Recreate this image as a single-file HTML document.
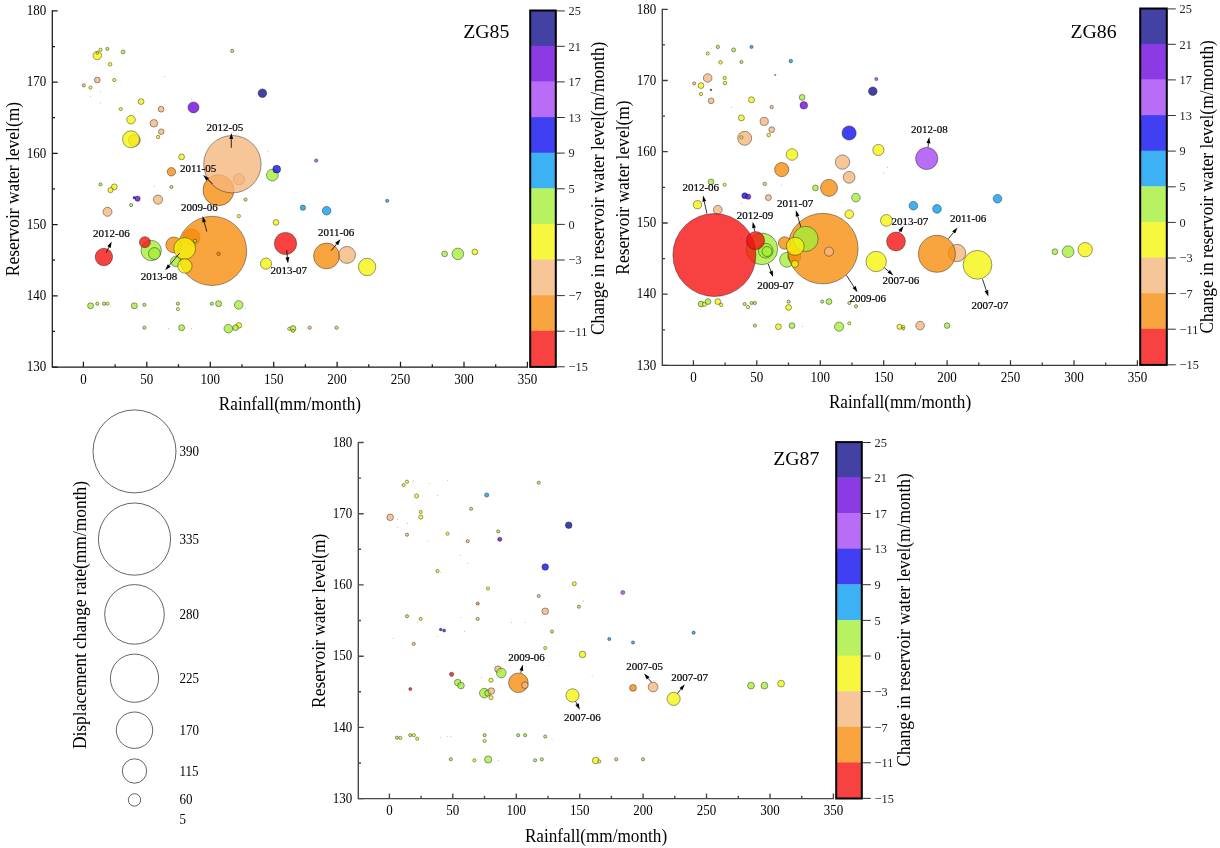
<!DOCTYPE html>
<html lang="en"><head><meta charset="utf-8"><title>Bubble plots ZG85 ZG86 ZG87</title>
<style>html,body{margin:0;padding:0;background:#fff}svg{display:block}text{font-family:"Liberation Serif","Times New Roman",serif;fill:#000}.tk{font-size:13px}.cb{font-size:13px;fill:#222}.ax{font-size:17.2px}.rx{font-size:17.45px}.an{font-size:11px;stroke:#000;stroke-width:.2}.zg{font-size:19.8px}.b{stroke:#1a1a1a;stroke-width:.55;stroke-opacity:.8;fill-opacity:0.78}.t{fill:#555;fill-opacity:.7}.l{fill:none}.ar{stroke:#000;stroke-width:.8;fill:none}.lg{stroke:#222;stroke-width:.7;fill:none}</style></head><body>
<svg width="1220" height="848" viewBox="0 0 1220 848">
<rect width="1220" height="848" fill="#fff"/>
<g>
<circle class="t" cx="164.7" cy="76.5" r=".45"/>
<circle class="t" cx="100.4" cy="91.8" r=".45"/>
<circle class="t" cx="90.5" cy="96.4" r=".45"/>
<circle class="t" cx="100.4" cy="103" r=".45"/>
<circle class="t" cx="191.7" cy="99.3" r=".45"/>
<circle class="t" cx="268" cy="151.5" r=".45"/>
<circle class="t" cx="154.6" cy="186.2" r=".45"/>
<circle class="t" cx="110.9" cy="306.6" r=".45"/>
<circle class="t" cx="137.5" cy="309.1" r=".45"/>
<circle class="t" cx="168.4" cy="328.5" r=".45"/>
<circle class="t" cx="191.7" cy="328.5" r=".45"/>
<circle class="t" cx="245.4" cy="308.2" r=".45"/>
<circle class="b" cx="97.3" cy="55.5" r="4.3" fill="#f5f50a"/>
<circle class="b" cx="97.3" cy="53.1" r="1.3" fill="#f5f50a"/>
<circle class="b" cx="100.6" cy="49.7" r="1.6" fill="#f5f50a"/>
<circle class="b" cx="107.4" cy="48.9" r="1.6" fill="#a4ee36"/>
<circle class="b" cx="123.1" cy="51.9" r="2" fill="#a4ee36"/>
<circle class="b" cx="110.1" cy="64.3" r="1.8" fill="#f5f50a"/>
<circle class="b" cx="97.3" cy="80" r="2.9" fill="#f5b67b"/>
<circle class="b" cx="114.2" cy="80" r="1.6" fill="#f5f50a"/>
<circle class="b" cx="83.8" cy="85.4" r="1.6" fill="#f5b67b"/>
<circle class="b" cx="90.5" cy="87.6" r="1.6" fill="#f5f50a"/>
<circle class="b" cx="141.1" cy="101.6" r="2.9" fill="#f5f50a"/>
<circle class="b" cx="120.8" cy="109.1" r="1.6" fill="#f5f50a"/>
<circle class="b" cx="161.1" cy="109.2" r="2.9" fill="#f5b67b"/>
<circle class="b" cx="193.5" cy="107.4" r="5.5" fill="#6c02dc"/>
<circle class="b" cx="131" cy="119.7" r="4.3" fill="#f5f50a"/>
<circle class="b" cx="153.9" cy="123.3" r="3.8" fill="#f5b67b"/>
<circle class="b" cx="161.3" cy="131.7" r="2.8" fill="#f5b67b"/>
<circle class="b" cx="158.1" cy="137" r="1.7" fill="#f5f50a"/>
<circle class="b" cx="134.3" cy="140.3" r="5.9" fill="#f5b67b"/>
<circle class="b" cx="131" cy="139.3" r="8.5" fill="#f5f50a"/>
<circle class="b" cx="232.2" cy="50.9" r="1.6" fill="#a4ee36"/>
<circle class="b" cx="262.4" cy="93.2" r="4.3" fill="#0f0b8c"/>
<circle class="b" cx="218.5" cy="190.2" r="15.5" fill="#f68c0a"/>
<circle class="b" cx="238.9" cy="179.3" r="5.6" fill="#f5b67b"/>
<circle class="b" cx="232.4" cy="164.2" r="28.7" fill="#f5b67b"/>
<circle class="b" cx="181.6" cy="156.9" r="2.9" fill="#f5f50a"/>
<circle class="b" cx="171.4" cy="171.8" r="4.2" fill="#f68c0a"/>
<circle class="b" cx="171.4" cy="187" r="1.6" fill="#a4ee36"/>
<circle class="b" cx="158" cy="199.6" r="4.6" fill="#f5b67b"/>
<circle class="b" cx="272.4" cy="175.1" r="5.9" fill="#a4ee36"/>
<circle class="b" cx="276.7" cy="169.2" r="3.9" fill="#0a0aee"/>
<circle class="b" cx="245.5" cy="199.6" r="1.6" fill="#a4ee36"/>
<circle class="b" cx="302.9" cy="207.7" r="2.6" fill="#059cf2"/>
<circle class="b" cx="238.8" cy="216.1" r="1.7" fill="#f5f50a"/>
<circle class="b" cx="276" cy="222.4" r="2.9" fill="#f5f50a"/>
<circle class="b" cx="316.2" cy="160.6" r="1.7" fill="#a543f2"/>
<circle class="b" cx="191.5" cy="237.4" r="8.5" fill="#f68c0a"/>
<circle class="b" cx="212.1" cy="250.9" r="34.6" fill="#f68c0a"/>
<circle class="b" cx="173.8" cy="244.9" r="7.9" fill="#f68c0a"/>
<circle class="b" cx="175.7" cy="261.4" r="5.2" fill="#a4ee36"/>
<circle class="b" cx="184.7" cy="248.5" r="10.9" fill="#f5f50a"/>
<circle class="b" cx="184.9" cy="266" r="7.2" fill="#f5f50a"/>
<circle class="b" cx="195" cy="240.9" r="1.7" fill="#a4ee36"/>
<circle class="b" cx="218.6" cy="253.8" r="1.7" fill="#f68c0a"/>
<circle class="b" cx="151.2" cy="250.5" r="10.2" fill="#a4ee36"/>
<circle class="b" cx="154.4" cy="253.5" r="5.9" fill="#a4ee36"/>
<circle class="b" cx="144.9" cy="242.2" r="5.5" fill="#f60d0d"/>
<circle class="b" cx="266" cy="263.6" r="5.6" fill="#f5f50a"/>
<circle class="b" cx="100.5" cy="184.4" r="1.6" fill="#a4ee36"/>
<circle class="b" cx="114.3" cy="186.8" r="2.9" fill="#f5f50a"/>
<circle class="b" cx="110.5" cy="190.1" r="2.6" fill="#f5f50a"/>
<circle class="b" cx="134.3" cy="197.7" r="1.3" fill="#0a0aee"/>
<circle class="b" cx="137.6" cy="198.7" r="2.6" fill="#6c02dc"/>
<circle class="b" cx="131.1" cy="205.1" r="1.6" fill="#a4ee36"/>
<circle class="b" cx="107.5" cy="211.8" r="4.5" fill="#f5b67b"/>
<circle class="b" cx="103.9" cy="257" r="8.7" fill="#f60d0d"/>
<circle class="b" cx="326.6" cy="210.7" r="4.3" fill="#059cf2"/>
<circle class="b" cx="387.2" cy="200.8" r="1.6" fill="#059cf2"/>
<circle class="b" cx="285.5" cy="243.5" r="11.1" fill="#f60d0d"/>
<circle class="b" cx="347" cy="254.9" r="8.5" fill="#f5b67b"/>
<circle class="b" cx="326.5" cy="256" r="12.9" fill="#f68c0a"/>
<circle class="b" cx="367.1" cy="267" r="8.7" fill="#f5f50a"/>
<circle class="b" cx="444.6" cy="253.9" r="2.9" fill="#a4ee36"/>
<circle class="b" cx="457.9" cy="253.9" r="5.8" fill="#a4ee36"/>
<circle class="b" cx="474.8" cy="251.9" r="2.9" fill="#f5f50a"/>
<circle class="b" cx="90.6" cy="305.8" r="3" fill="#a4ee36"/>
<circle class="b" cx="97.3" cy="303.7" r="1.6" fill="#a4ee36"/>
<circle class="b" cx="104" cy="303.7" r="1.7" fill="#a4ee36"/>
<circle class="b" cx="107.5" cy="303.7" r="1.6" fill="#f5f50a"/>
<circle class="b" cx="134.3" cy="305.8" r="3" fill="#a4ee36"/>
<circle class="b" cx="144.4" cy="304.8" r="1.6" fill="#a4ee36"/>
<circle class="b" cx="177.9" cy="303.7" r="1.6" fill="#a4ee36"/>
<circle class="b" cx="177.9" cy="309.1" r="1.6" fill="#f5f50a"/>
<circle class="b" cx="211.8" cy="303.7" r="1.6" fill="#a4ee36"/>
<circle class="b" cx="218.6" cy="303.7" r="3" fill="#a4ee36"/>
<circle class="b" cx="238.7" cy="304.9" r="4.3" fill="#a4ee36"/>
<circle class="b" cx="144.4" cy="327.7" r="1.6" fill="#a4ee36"/>
<circle class="b" cx="181.6" cy="327.7" r="3" fill="#a4ee36"/>
<circle class="b" cx="238.9" cy="325.4" r="2.8" fill="#f5f50a"/>
<circle class="b" cx="228.3" cy="328.7" r="4.3" fill="#a4ee36"/>
<circle class="b" cx="235.6" cy="327.7" r="2.9" fill="#a4ee36"/>
<circle class="b" cx="289.2" cy="328.8" r="1.6" fill="#f5f50a"/>
<circle class="b" cx="293" cy="328.5" r="2.9" fill="#a4ee36"/>
<circle class="b" cx="293" cy="330.9" r="1.6" fill="#f5f50a"/>
<circle class="b" cx="309.7" cy="327.7" r="1.7" fill="#f5b67b"/>
<circle class="b" cx="336.6" cy="327.7" r="1.7" fill="#a4ee36"/>
<path class="l" stroke="#1a1a1a" stroke-width="1.25" d="M52.3 10.3V367H528"/>
<path class="l" stroke="#1a1a1a" stroke-width="1.25" d="M83.4 367v-5.2M115.1 367v-2.8M146.8 367v-5.2M178.5 367v-2.8M210.3 367v-5.2M242 367v-2.8M273.7 367v-5.2M305.4 367v-2.8M337.1 367v-5.2M368.8 367v-2.8M400.5 367v-5.2M432.3 367v-2.8M464 367v-5.2M495.7 367v-2.8M527.4 367v-5.2M52.3 367h5.4M52.3 331.4h2.7M52.3 295.8h5.4M52.3 260.2h2.7M52.3 224.6h5.4M52.3 188.9h2.7M52.3 153.3h5.4M52.3 117.7h2.7M52.3 82.1h5.4M52.3 46.5h2.7M52.3 10.9h5.4"/>
<text class="tk" transform="translate(83.4 383.6) scale(1,1.08)" text-anchor="middle">0</text>
<text class="tk" transform="translate(146.8 383.6) scale(1,1.08)" text-anchor="middle">50</text>
<text class="tk" transform="translate(210.3 383.6) scale(1,1.08)" text-anchor="middle">100</text>
<text class="tk" transform="translate(273.7 383.6) scale(1,1.08)" text-anchor="middle">150</text>
<text class="tk" transform="translate(337.1 383.6) scale(1,1.08)" text-anchor="middle">200</text>
<text class="tk" transform="translate(400.5 383.6) scale(1,1.08)" text-anchor="middle">250</text>
<text class="tk" transform="translate(464 383.6) scale(1,1.08)" text-anchor="middle">300</text>
<text class="tk" transform="translate(527.4 383.6) scale(1,1.08)" text-anchor="middle">350</text>
<text class="tk" transform="translate(46.2 371.2) scale(1,1.08)" text-anchor="end">130</text>
<text class="tk" transform="translate(46.2 300) scale(1,1.08)" text-anchor="end">140</text>
<text class="tk" transform="translate(46.2 228.8) scale(1,1.08)" text-anchor="end">150</text>
<text class="tk" transform="translate(46.2 157.5) scale(1,1.08)" text-anchor="end">160</text>
<text class="tk" transform="translate(46.2 86.3) scale(1,1.08)" text-anchor="end">170</text>
<text class="tk" transform="translate(46.2 15.1) scale(1,1.08)" text-anchor="end">180</text>
<text class="ax" transform="translate(289.9 409.9) scale(1,1.04)" text-anchor="middle">Rainfall(mm/month)</text>
<text class="rx" transform="translate(19.4 189.1) rotate(-90) scale(1,1.11)" text-anchor="middle">Reservoir water level(m)</text>
<text class="zg" x="463.2" y="37.6">ZG85</text>
<rect x="530.2" y="10.3" width="25.6" height="36" fill="#4441a5"/>
<rect x="530.2" y="45.9" width="25.6" height="36" fill="#8c3ae4"/>
<rect x="530.2" y="81.5" width="25.6" height="36" fill="#b96cf5"/>
<rect x="530.2" y="117.1" width="25.6" height="36" fill="#4040f2"/>
<rect x="530.2" y="152.7" width="25.6" height="36" fill="#3cb2f5"/>
<rect x="530.2" y="188.4" width="25.6" height="36" fill="#b8f262"/>
<rect x="530.2" y="224" width="25.6" height="36" fill="#f7f740"/>
<rect x="530.2" y="259.6" width="25.6" height="36" fill="#f7c698"/>
<rect x="530.2" y="295.2" width="25.6" height="36" fill="#f8a540"/>
<rect x="530.2" y="330.8" width="25.6" height="36" fill="#f84242"/>
<rect x="530.2" y="10.5" width="25.6" height="356.4" fill="none" stroke="#000" stroke-width="2"/>
<text class="cb" transform="translate(568.6 15.2) scale(.95,1)">25</text>
<text class="cb" transform="translate(568.6 50.6) scale(.95,1)">21</text>
<text class="cb" transform="translate(568.6 86.2) scale(.95,1)">17</text>
<text class="cb" transform="translate(568.6 121.8) scale(.95,1)">13</text>
<text class="cb" transform="translate(568.6 157.4) scale(.95,1)">9</text>
<text class="cb" transform="translate(568.6 193.1) scale(.95,1)">5</text>
<text class="cb" transform="translate(568.6 228.7) scale(.95,1)">0</text>
<text class="cb" transform="translate(568.6 264.3) scale(.95,1)">−3</text>
<text class="cb" transform="translate(568.6 299.9) scale(.95,1)">−7</text>
<text class="cb" transform="translate(568.6 335.5) scale(.95,1)">−11</text>
<text class="cb" transform="translate(568.6 371.1) scale(.95,1)">−15</text>
<path d="M556.8 10.9h8M556.8 46.3h8M556.8 81.9h8M556.8 117.5h8M556.8 153.1h8M556.8 188.8h8M556.8 224.4h8M556.8 260h8M556.8 295.6h8M556.8 331.2h8M556.8 366.8h8" stroke="#333" stroke-width="1" fill="none"/>
<text class="rx" transform="translate(603.5 188.3) rotate(-90) scale(1,1.11)" text-anchor="middle">Change in reservoir water level(m/month)</text>
<path class="ar" d="M231.3 147.8L231.3 139.1"/>
<path d="M231.3 132.9L233.2 139.1L229.4 139.1Z" fill="#000"/>
<text class="an" x="206.6" y="130.8">2012-05</text>
<path class="ar" d="M212.7 183.9L207.7 179.3"/>
<path d="M203.1 175.1L209 177.9L206.4 180.7Z" fill="#000"/>
<text class="an" x="179.9" y="172.2">2011-05</text>
<path class="ar" d="M206.8 231.5L204.2 221.9"/>
<path d="M202.6 215.9L206 221.4L202.4 222.4Z" fill="#000"/>
<text class="an" x="181.1" y="210.6">2009-06</text>
<path class="ar" d="M106.1 252.9L109 247.1"/>
<path d="M111.7 241.5L110.7 247.9L107.3 246.2Z" fill="#000"/>
<text class="an" x="93.1" y="237.1">2012-06</text>
<path class="ar" d="M179.7 253.1L169.2 265.5"/>
<path d="M165.2 270.2L167.8 264.2L170.7 266.7Z" fill="#000"/>
<text class="an" x="140.7" y="280.3">2013-08</text>
<path class="ar" d="M286.7 250.1L287.4 257.2"/>
<path d="M288 263.4L285.5 257.4L289.3 257Z" fill="#000"/>
<text class="an" x="270.4" y="273.9">2013-07</text>
<path class="ar" d="M331.3 250.6L336.6 244"/>
<path d="M340.5 239.2L338.1 245.2L335.1 242.8Z" fill="#000"/>
<text class="an" x="317.9" y="235.6">2011-06</text>
</g>
<g>
<circle class="t" cx="711.1" cy="48.2" r=".45"/>
<circle class="t" cx="731.4" cy="107.2" r=".45"/>
<circle class="t" cx="781.8" cy="184.9" r=".45"/>
<circle class="t" cx="741.4" cy="203.3" r=".45"/>
<circle class="t" cx="887.4" cy="167.5" r=".45"/>
<circle class="t" cx="883.4" cy="173" r=".45"/>
<circle class="t" cx="802.4" cy="326.3" r=".45"/>
<circle class="b" cx="717.8" cy="46.9" r="1.7" fill="#a4ee36"/>
<circle class="b" cx="707.7" cy="53.5" r="1.6" fill="#f5f50a"/>
<circle class="b" cx="733.6" cy="49.9" r="2" fill="#a4ee36"/>
<circle class="b" cx="751.5" cy="46.9" r="1.6" fill="#059cf2"/>
<circle class="b" cx="720.5" cy="62.3" r="1.8" fill="#f5f50a"/>
<circle class="b" cx="741.4" cy="62" r="1.6" fill="#a4ee36"/>
<circle class="b" cx="790.8" cy="61.1" r="1.8" fill="#059cf2"/>
<circle class="b" cx="775.2" cy="74.9" r="0.7" fill="#a4ee36"/>
<circle class="b" cx="707.7" cy="78" r="4.3" fill="#f5b67b"/>
<circle class="b" cx="724.7" cy="78" r="1.7" fill="#f5f50a"/>
<circle class="b" cx="724.9" cy="83.1" r="1.8" fill="#f5f50a"/>
<circle class="b" cx="694.2" cy="83.4" r="1.6" fill="#f5b67b"/>
<circle class="b" cx="701" cy="85.6" r="2.9" fill="#f5f50a"/>
<circle class="b" cx="711" cy="89.9" r="0.8" fill="#0f0b8c"/>
<circle class="b" cx="701" cy="94.1" r="1.7" fill="#f5f50a"/>
<circle class="b" cx="711.1" cy="100.8" r="2.9" fill="#f5b67b"/>
<circle class="b" cx="751.5" cy="99.8" r="3" fill="#f5f50a"/>
<circle class="b" cx="771.7" cy="107.1" r="1.7" fill="#f5b67b"/>
<circle class="b" cx="802.1" cy="97.4" r="2.9" fill="#a4ee36"/>
<circle class="b" cx="803.8" cy="105.3" r="3.8" fill="#6c02dc"/>
<circle class="b" cx="741.4" cy="117.9" r="3" fill="#f5f50a"/>
<circle class="b" cx="764.2" cy="121.4" r="4.1" fill="#f5b67b"/>
<circle class="b" cx="771.7" cy="129.7" r="2.9" fill="#f5b67b"/>
<circle class="b" cx="768.7" cy="135" r="1.8" fill="#f5f50a"/>
<circle class="b" cx="744.7" cy="138.3" r="7" fill="#f5b67b"/>
<circle class="b" cx="741.4" cy="137.3" r="1.6" fill="#f5f50a"/>
<circle class="b" cx="876.3" cy="79" r="1.6" fill="#a543f2"/>
<circle class="b" cx="872.8" cy="91.2" r="4.3" fill="#0f0b8c"/>
<circle class="b" cx="849.1" cy="133" r="7.1" fill="#0a0aee"/>
<circle class="b" cx="792" cy="154.5" r="5.8" fill="#f5f50a"/>
<circle class="b" cx="781.7" cy="169.6" r="7.1" fill="#f68c0a"/>
<circle class="b" cx="842.5" cy="162.1" r="7.2" fill="#f5b67b"/>
<circle class="b" cx="849.1" cy="177.3" r="5.9" fill="#f5b67b"/>
<circle class="b" cx="829" cy="187.9" r="8.5" fill="#f68c0a"/>
<circle class="b" cx="815.4" cy="187.9" r="2.9" fill="#a4ee36"/>
<circle class="b" cx="711" cy="181.9" r="2.9" fill="#a4ee36"/>
<circle class="b" cx="724.6" cy="184.8" r="1.6" fill="#f5f50a"/>
<circle class="b" cx="764.8" cy="183.9" r="1.7" fill="#a4ee36"/>
<circle class="b" cx="744.7" cy="195.7" r="2.9" fill="#0a0aee"/>
<circle class="b" cx="748.2" cy="196.7" r="2.6" fill="#6c02dc"/>
<circle class="b" cx="768.4" cy="197.6" r="3" fill="#f5b67b"/>
<circle class="b" cx="697.5" cy="204.7" r="4.1" fill="#f5f50a"/>
<circle class="b" cx="849.3" cy="214.2" r="4.3" fill="#f5f50a"/>
<circle class="b" cx="855.9" cy="197.6" r="4.3" fill="#a4ee36"/>
<circle class="b" cx="878.4" cy="150" r="5.6" fill="#f5f50a"/>
<circle class="b" cx="926.7" cy="158.5" r="11.1" fill="#a543f2"/>
<circle class="b" cx="913.4" cy="205.7" r="4.3" fill="#059cf2"/>
<circle class="b" cx="937" cy="208.9" r="4.3" fill="#059cf2"/>
<circle class="b" cx="997.5" cy="198.7" r="4.3" fill="#059cf2"/>
<circle class="b" cx="886.4" cy="220.4" r="5.9" fill="#f5f50a"/>
<circle class="b" cx="896" cy="241.5" r="9.4" fill="#f60d0d"/>
<circle class="b" cx="876.2" cy="261.5" r="10.2" fill="#f5f50a"/>
<circle class="b" cx="957" cy="253" r="8.7" fill="#f5b67b"/>
<circle class="b" cx="936.9" cy="253.8" r="18.5" fill="#f68c0a"/>
<circle class="b" cx="977.5" cy="264.8" r="14.4" fill="#f5f50a"/>
<circle class="b" cx="1054.9" cy="251.7" r="2.9" fill="#a4ee36"/>
<circle class="b" cx="1068.1" cy="251.7" r="5.9" fill="#a4ee36"/>
<circle class="b" cx="1085.2" cy="249.7" r="7.2" fill="#f5f50a"/>
<circle class="b" cx="717.8" cy="209.8" r="4.4" fill="#f5b67b"/>
<circle class="b" cx="761.9" cy="248.9" r="15.8" fill="#a4ee36"/>
<circle class="b" cx="765.7" cy="250.7" r="7.4" fill="#a4ee36"/>
<circle class="b" cx="767" cy="251.5" r="5" fill="#a4ee36"/>
<circle class="b" cx="714.4" cy="255" r="41.5" fill="#f60d0d"/>
<circle class="b" cx="755.6" cy="240.6" r="9" fill="#f60d0d"/>
<circle class="b" cx="787" cy="259.8" r="7.4" fill="#a4ee36"/>
<circle class="b" cx="794.4" cy="256.5" r="6.5" fill="#f68c0a"/>
<circle class="b" cx="822.8" cy="248.6" r="35.3" fill="#f68c0a"/>
<circle class="b" cx="784.6" cy="243" r="6.2" fill="#f68c0a"/>
<circle class="b" cx="805.6" cy="238.9" r="12.6" fill="#a4ee36"/>
<circle class="b" cx="795.2" cy="246.3" r="9" fill="#f5f50a"/>
<circle class="b" cx="794.9" cy="263.9" r="3.6" fill="#f5f50a"/>
<circle class="b" cx="829" cy="251.6" r="4.6" fill="#f5b67b"/>
<circle class="b" cx="701.1" cy="304" r="2.9" fill="#a4ee36"/>
<circle class="b" cx="704.4" cy="304.3" r="2.1" fill="#f5f50a"/>
<circle class="b" cx="708" cy="301.6" r="2.9" fill="#a4ee36"/>
<circle class="b" cx="717.8" cy="301.6" r="2.9" fill="#f5f50a"/>
<circle class="b" cx="721.2" cy="304.9" r="1.7" fill="#f5f50a"/>
<circle class="b" cx="744.7" cy="304" r="1.6" fill="#a4ee36"/>
<circle class="b" cx="748" cy="307.1" r="1.7" fill="#f5f50a"/>
<circle class="b" cx="751.6" cy="303" r="1.6" fill="#a4ee36"/>
<circle class="b" cx="754.9" cy="303" r="1.6" fill="#a4ee36"/>
<circle class="b" cx="788.6" cy="301.6" r="1.6" fill="#a4ee36"/>
<circle class="b" cx="788.6" cy="307.4" r="2.9" fill="#f5f50a"/>
<circle class="b" cx="822.2" cy="301.6" r="1.6" fill="#a4ee36"/>
<circle class="b" cx="829" cy="301.6" r="2.9" fill="#a4ee36"/>
<circle class="b" cx="849.3" cy="303" r="1.6" fill="#a4ee36"/>
<circle class="b" cx="856" cy="306.2" r="1.6" fill="#a4ee36"/>
<circle class="b" cx="754.9" cy="325.6" r="1.6" fill="#a4ee36"/>
<circle class="b" cx="778.4" cy="326.7" r="2.9" fill="#f5f50a"/>
<circle class="b" cx="792" cy="325.6" r="2.9" fill="#a4ee36"/>
<circle class="b" cx="839.1" cy="326.7" r="4.6" fill="#a4ee36"/>
<circle class="b" cx="849.3" cy="323.3" r="1.6" fill="#f5f50a"/>
<circle class="b" cx="899.5" cy="326.8" r="2.6" fill="#f5f50a"/>
<circle class="b" cx="903.2" cy="326.8" r="1.6" fill="#f5f50a"/>
<circle class="b" cx="903.2" cy="328.8" r="1.3" fill="#f5f50a"/>
<circle class="b" cx="920.1" cy="325.6" r="4.3" fill="#f5b67b"/>
<circle class="b" cx="947.1" cy="325.6" r="2.8" fill="#a4ee36"/>
<path class="l" stroke="#3c3c3c" stroke-width="1.3" d="M662.3 8.7V365.4H1138"/>
<path class="l" stroke="#3c3c3c" stroke-width="1.3" d="M693.4 365.4v-5.2M725.1 365.4v-2.8M756.8 365.4v-5.2M788.5 365.4v-2.8M820.3 365.4v-5.2M852 365.4v-2.8M883.7 365.4v-5.2M915.4 365.4v-2.8M947.1 365.4v-5.2M978.8 365.4v-2.8M1010.5 365.4v-5.2M1042.3 365.4v-2.8M1074 365.4v-5.2M1105.7 365.4v-2.8M1137.4 365.4v-5.2M662.3 365.4h5.4M662.3 329.8h2.7M662.3 294.2h5.4M662.3 258.6h2.7M662.3 223h5.4M662.3 187.4h2.7M662.3 151.7h5.4M662.3 116.1h2.7M662.3 80.5h5.4M662.3 44.9h2.7M662.3 9.3h5.4"/>
<text class="tk" transform="translate(693.4 382) scale(1,1.08)" text-anchor="middle">0</text>
<text class="tk" transform="translate(756.8 382) scale(1,1.08)" text-anchor="middle">50</text>
<text class="tk" transform="translate(820.3 382) scale(1,1.08)" text-anchor="middle">100</text>
<text class="tk" transform="translate(883.7 382) scale(1,1.08)" text-anchor="middle">150</text>
<text class="tk" transform="translate(947.1 382) scale(1,1.08)" text-anchor="middle">200</text>
<text class="tk" transform="translate(1010.5 382) scale(1,1.08)" text-anchor="middle">250</text>
<text class="tk" transform="translate(1074 382) scale(1,1.08)" text-anchor="middle">300</text>
<text class="tk" transform="translate(1137.4 382) scale(1,1.08)" text-anchor="middle">350</text>
<text class="tk" transform="translate(656.2 369.6) scale(1,1.08)" text-anchor="end">130</text>
<text class="tk" transform="translate(656.2 298.4) scale(1,1.08)" text-anchor="end">140</text>
<text class="tk" transform="translate(656.2 227.2) scale(1,1.08)" text-anchor="end">150</text>
<text class="tk" transform="translate(656.2 155.9) scale(1,1.08)" text-anchor="end">160</text>
<text class="tk" transform="translate(656.2 84.7) scale(1,1.08)" text-anchor="end">170</text>
<text class="tk" transform="translate(656.2 13.5) scale(1,1.08)" text-anchor="end">180</text>
<text class="ax" transform="translate(900 408.3) scale(1,1.04)" text-anchor="middle">Rainfall(mm/month)</text>
<text class="rx" transform="translate(629.4 187.5) rotate(-90) scale(1,1.11)" text-anchor="middle">Reservoir water level(m)</text>
<text class="zg" x="1070.4" y="38.3">ZG86</text>
<rect x="1140.2" y="8.3" width="26.6" height="36" fill="#4441a5"/>
<rect x="1140.2" y="43.9" width="26.6" height="36" fill="#8c3ae4"/>
<rect x="1140.2" y="79.5" width="26.6" height="36" fill="#b96cf5"/>
<rect x="1140.2" y="115.1" width="26.6" height="36" fill="#4040f2"/>
<rect x="1140.2" y="150.7" width="26.6" height="36" fill="#3cb2f5"/>
<rect x="1140.2" y="186.4" width="26.6" height="36" fill="#b8f262"/>
<rect x="1140.2" y="222" width="26.6" height="36" fill="#f7f740"/>
<rect x="1140.2" y="257.6" width="26.6" height="36" fill="#f7c698"/>
<rect x="1140.2" y="293.2" width="26.6" height="36" fill="#f8a540"/>
<rect x="1140.2" y="328.8" width="26.6" height="36" fill="#f84242"/>
<rect x="1140.2" y="8.5" width="26.6" height="356.4" fill="none" stroke="#000" stroke-width="2"/>
<text class="cb" transform="translate(1179.6 13.2) scale(.95,1)">25</text>
<text class="cb" transform="translate(1179.6 48.6) scale(.95,1)">21</text>
<text class="cb" transform="translate(1179.6 84.2) scale(.95,1)">17</text>
<text class="cb" transform="translate(1179.6 119.8) scale(.95,1)">13</text>
<text class="cb" transform="translate(1179.6 155.4) scale(.95,1)">9</text>
<text class="cb" transform="translate(1179.6 191.1) scale(.95,1)">5</text>
<text class="cb" transform="translate(1179.6 226.7) scale(.95,1)">0</text>
<text class="cb" transform="translate(1179.6 262.3) scale(.95,1)">−3</text>
<text class="cb" transform="translate(1179.6 297.9) scale(.95,1)">−7</text>
<text class="cb" transform="translate(1179.6 333.5) scale(.95,1)">−11</text>
<text class="cb" transform="translate(1179.6 369.1) scale(.95,1)">−15</text>
<path d="M1167.8 8.9h8M1167.8 44.3h8M1167.8 79.9h8M1167.8 115.5h8M1167.8 151.1h8M1167.8 186.8h8M1167.8 222.4h8M1167.8 258h8M1167.8 293.6h8M1167.8 329.2h8M1167.8 364.8h8" stroke="#333" stroke-width="1" fill="none"/>
<text class="rx" transform="translate(1213.4 186.8) rotate(-90) scale(1,1.11)" text-anchor="middle">Change in reservoir water level(m/month)</text>
<path class="ar" d="M928 147.5L928.5 143.2"/>
<path d="M929.2 137L930.4 143.4L926.6 142.9Z" fill="#000"/>
<text class="an" x="911.1" y="132.8">2012-08</text>
<path class="ar" d="M706.8 213.4L704.3 201.5"/>
<path d="M703.1 195.4L706.2 201.1L702.5 201.9Z" fill="#000"/>
<text class="an" x="682.4" y="190.8">2012-06</text>
<path class="ar" d="M754.8 231.4L754 227.9"/>
<path d="M752.7 221.8L755.9 227.5L752.2 228.3Z" fill="#000"/>
<text class="an" x="736.7" y="218.6">2012-09</text>
<path class="ar" d="M800.8 226.8L797.6 216.1"/>
<path d="M795.8 210.2L799.4 215.6L795.8 216.7Z" fill="#000"/>
<text class="an" x="776.9" y="206.8">2011-07</text>
<path class="ar" d="M768.2 263.9L770.9 271.2"/>
<path d="M773.1 277L769.1 271.9L772.7 270.5Z" fill="#000"/>
<text class="an" x="757.2" y="288.8">2009-07</text>
<path class="ar" d="M899 232.5L899.9 231.2"/>
<path d="M903.5 226.1L901.5 232.3L898.4 230.1Z" fill="#000"/>
<text class="an" x="891.6" y="224.6">2013-07</text>
<path class="ar" d="M948.4 238.7L953.6 232.4"/>
<path d="M957.6 227.6L955.1 233.6L952.2 231.2Z" fill="#000"/>
<text class="an" x="949.9" y="222">2011-06</text>
<path class="ar" d="M884.4 267.7L888.7 271.4"/>
<path d="M893.4 275.4L887.5 272.8L889.9 269.9Z" fill="#000"/>
<text class="an" x="882.5" y="283.9">2007-06</text>
<path class="ar" d="M982.5 279.2L986.4 290.7"/>
<path d="M988.4 296.6L984.6 291.3L988.2 290.1Z" fill="#000"/>
<text class="an" x="971.5" y="308.5">2007-07</text>
<path class="ar" d="M846.4 275.3L854.1 287.1"/>
<path d="M857.5 292.3L852.5 288.1L855.7 286.1Z" fill="#000"/>
<text class="an" x="849.4" y="302.4">2009-06</text>
</g>
<g>
<circle class="t" cx="413.4" cy="480.6" r=".45"/>
<circle class="t" cx="412.3" cy="482.2" r=".45"/>
<circle class="t" cx="429.5" cy="483.4" r=".45"/>
<circle class="t" cx="447.4" cy="480.4" r=".45"/>
<circle class="t" cx="437.4" cy="495.3" r=".45"/>
<circle class="t" cx="397.4" cy="519.3" r=".45"/>
<circle class="t" cx="407.4" cy="523.5" r=".45"/>
<circle class="t" cx="397.4" cy="527.8" r=".45"/>
<circle class="t" cx="427.4" cy="541.1" r=".45"/>
<circle class="t" cx="460.3" cy="555.3" r=".45"/>
<circle class="t" cx="467.7" cy="563.5" r=".45"/>
<circle class="t" cx="440.8" cy="572.4" r=".45"/>
<circle class="t" cx="417.5" cy="622.3" r=".45"/>
<circle class="t" cx="393.4" cy="638.4" r=".45"/>
<circle class="t" cx="437.4" cy="636.4" r=".45"/>
<circle class="t" cx="461" cy="617.4" r=".45"/>
<circle class="t" cx="464.4" cy="631.3" r=".45"/>
<circle class="t" cx="511.5" cy="622.3" r=".45"/>
<circle class="t" cx="525.1" cy="622.3" r=".45"/>
<circle class="t" cx="548.4" cy="665.4" r=".45"/>
<circle class="t" cx="481.5" cy="677.2" r=".45"/>
<circle class="t" cx="583.4" cy="601" r=".45"/>
<circle class="t" cx="592.1" cy="675.4" r=".45"/>
<circle class="t" cx="440.7" cy="737.4" r=".45"/>
<circle class="t" cx="447.5" cy="736.4" r=".45"/>
<circle class="t" cx="450.8" cy="736.4" r=".45"/>
<circle class="t" cx="552" cy="739.3" r=".45"/>
<circle class="t" cx="498.4" cy="760.5" r=".45"/>
<circle class="b" cx="407" cy="481.7" r="1.6" fill="#f5f50a"/>
<circle class="b" cx="403.6" cy="485" r="1.6" fill="#f5f50a"/>
<circle class="b" cx="416.6" cy="496" r="2.1" fill="#f5f50a"/>
<circle class="b" cx="420.7" cy="512" r="1.6" fill="#f5f50a"/>
<circle class="b" cx="420.8" cy="517.1" r="2.1" fill="#f5f50a"/>
<circle class="b" cx="390.2" cy="517.3" r="3.3" fill="#f5b67b"/>
<circle class="b" cx="407" cy="534.7" r="1.6" fill="#f5b67b"/>
<circle class="b" cx="447.5" cy="533.7" r="1.6" fill="#f5f50a"/>
<circle class="b" cx="467.7" cy="541.2" r="1.6" fill="#f5b67b"/>
<circle class="b" cx="471.1" cy="508.8" r="1.6" fill="#a4ee36"/>
<circle class="b" cx="486.7" cy="495" r="2.1" fill="#059cf2"/>
<circle class="b" cx="498.2" cy="531.4" r="1.6" fill="#a4ee36"/>
<circle class="b" cx="499.8" cy="539.3" r="2.1" fill="#6c02dc"/>
<circle class="b" cx="538.7" cy="482.7" r="1.6" fill="#a4ee36"/>
<circle class="b" cx="568.7" cy="525.2" r="3.3" fill="#0f0b8c"/>
<circle class="b" cx="545.2" cy="567" r="3.3" fill="#0a0aee"/>
<circle class="b" cx="437.4" cy="571.1" r="1.6" fill="#f5f50a"/>
<circle class="b" cx="488" cy="588.4" r="1.6" fill="#f5f50a"/>
<circle class="b" cx="538.7" cy="596" r="1.6" fill="#f5b67b"/>
<circle class="b" cx="477.7" cy="603.6" r="1.6" fill="#f68c0a"/>
<circle class="b" cx="545.2" cy="611.3" r="3.3" fill="#f5b67b"/>
<circle class="b" cx="407" cy="616.2" r="1.6" fill="#a4ee36"/>
<circle class="b" cx="420.7" cy="618.9" r="1.6" fill="#f5f50a"/>
<circle class="b" cx="477.7" cy="618.9" r="1.6" fill="#a4ee36"/>
<circle class="b" cx="440.7" cy="629.5" r="1.3" fill="#0a0aee"/>
<circle class="b" cx="444.1" cy="630.5" r="1.5" fill="#6c02dc"/>
<circle class="b" cx="552" cy="631.6" r="1.6" fill="#a4ee36"/>
<circle class="b" cx="413.8" cy="643.8" r="1.6" fill="#f5b67b"/>
<circle class="b" cx="545.2" cy="648" r="1.6" fill="#f5f50a"/>
<circle class="b" cx="451.6" cy="674.3" r="2.1" fill="#f60d0d"/>
<circle class="b" cx="410.3" cy="689" r="1.5" fill="#f60d0d"/>
<circle class="b" cx="457.7" cy="682.6" r="3.3" fill="#a4ee36"/>
<circle class="b" cx="461" cy="685.6" r="3.3" fill="#a4ee36"/>
<circle class="b" cx="497.9" cy="669.2" r="3.3" fill="#f5b67b"/>
<circle class="b" cx="501.3" cy="673" r="4.8" fill="#a4ee36"/>
<circle class="b" cx="491" cy="680.3" r="2.1" fill="#f5f50a"/>
<circle class="b" cx="484.3" cy="693.1" r="4.8" fill="#a4ee36"/>
<circle class="b" cx="487.7" cy="693.1" r="3" fill="#a4ee36"/>
<circle class="b" cx="491.3" cy="691.1" r="3.3" fill="#f5b67b"/>
<circle class="b" cx="491" cy="697.7" r="2.1" fill="#f5f50a"/>
<circle class="b" cx="518.4" cy="682.8" r="9.8" fill="#f68c0a"/>
<circle class="b" cx="524.9" cy="685.2" r="3.3" fill="#f5b67b"/>
<circle class="b" cx="622.8" cy="592.5" r="2" fill="#a543f2"/>
<circle class="b" cx="578.9" cy="606.7" r="1.6" fill="#a4ee36"/>
<circle class="b" cx="582.5" cy="654.4" r="3.3" fill="#f5f50a"/>
<circle class="b" cx="609.3" cy="639" r="1.6" fill="#059cf2"/>
<circle class="b" cx="633" cy="642.5" r="1.6" fill="#059cf2"/>
<circle class="b" cx="693.6" cy="632.7" r="1.6" fill="#059cf2"/>
<circle class="b" cx="572.5" cy="695.4" r="6.6" fill="#f5f50a"/>
<circle class="b" cx="633" cy="687.9" r="3.4" fill="#f68c0a"/>
<circle class="b" cx="653.1" cy="687" r="4.9" fill="#f5b67b"/>
<circle class="b" cx="673.6" cy="698.9" r="6.6" fill="#f5f50a"/>
<circle class="b" cx="574.3" cy="583.7" r="2" fill="#f5f50a"/>
<circle class="b" cx="751" cy="685.6" r="3.4" fill="#a4ee36"/>
<circle class="b" cx="764.4" cy="685.6" r="3.4" fill="#a4ee36"/>
<circle class="b" cx="781.1" cy="683.6" r="3.4" fill="#f5f50a"/>
<circle class="b" cx="396.9" cy="737.7" r="1.6" fill="#a4ee36"/>
<circle class="b" cx="400.3" cy="737.9" r="1.6" fill="#f5f50a"/>
<circle class="b" cx="410.3" cy="735.2" r="1.6" fill="#a4ee36"/>
<circle class="b" cx="413.9" cy="735.2" r="1.6" fill="#f5f50a"/>
<circle class="b" cx="417.2" cy="738.7" r="1.6" fill="#f5f50a"/>
<circle class="b" cx="484.6" cy="735.2" r="1.6" fill="#a4ee36"/>
<circle class="b" cx="484.6" cy="741" r="1.6" fill="#f5f50a"/>
<circle class="b" cx="518.2" cy="735.2" r="1.6" fill="#a4ee36"/>
<circle class="b" cx="525.1" cy="735.2" r="1.6" fill="#a4ee36"/>
<circle class="b" cx="545.2" cy="736.5" r="1.6" fill="#a4ee36"/>
<circle class="b" cx="450.8" cy="759.2" r="1.6" fill="#a4ee36"/>
<circle class="b" cx="474.4" cy="760.3" r="1.6" fill="#f5f50a"/>
<circle class="b" cx="488.2" cy="759.5" r="3.6" fill="#a4ee36"/>
<circle class="b" cx="535.1" cy="760.3" r="1.6" fill="#a4ee36"/>
<circle class="b" cx="541.8" cy="759.3" r="1.6" fill="#a4ee36"/>
<circle class="b" cx="595.7" cy="760.5" r="3.3" fill="#f5f50a"/>
<circle class="b" cx="599.3" cy="761.5" r="1.6" fill="#f5f50a"/>
<circle class="b" cx="616.2" cy="759.3" r="1.6" fill="#f5b67b"/>
<circle class="b" cx="643" cy="759.3" r="1.6" fill="#a4ee36"/>
<path class="l" stroke="#4a4a4a" stroke-width="1.4" d="M358.3 441.9V798.6H834"/>
<path class="l" stroke="#4a4a4a" stroke-width="1.4" d="M389.4 798.6v-5.2M421.1 798.6v-2.8M452.8 798.6v-5.2M484.5 798.6v-2.8M516.3 798.6v-5.2M548 798.6v-2.8M579.7 798.6v-5.2M611.4 798.6v-2.8M643.1 798.6v-5.2M674.8 798.6v-2.8M706.5 798.6v-5.2M738.3 798.6v-2.8M770 798.6v-5.2M801.7 798.6v-2.8M833.4 798.6v-5.2M358.3 798.6h5.4M358.3 763h2.7M358.3 727.4h5.4M358.3 691.8h2.7M358.3 656.2h5.4M358.3 620.5h2.7M358.3 584.9h5.4M358.3 549.3h2.7M358.3 513.7h5.4M358.3 478.1h2.7M358.3 442.5h5.4"/>
<text class="tk" transform="translate(389.4 815.2) scale(1,1.08)" text-anchor="middle">0</text>
<text class="tk" transform="translate(452.8 815.2) scale(1,1.08)" text-anchor="middle">50</text>
<text class="tk" transform="translate(516.3 815.2) scale(1,1.08)" text-anchor="middle">100</text>
<text class="tk" transform="translate(579.7 815.2) scale(1,1.08)" text-anchor="middle">150</text>
<text class="tk" transform="translate(643.1 815.2) scale(1,1.08)" text-anchor="middle">200</text>
<text class="tk" transform="translate(706.5 815.2) scale(1,1.08)" text-anchor="middle">250</text>
<text class="tk" transform="translate(770 815.2) scale(1,1.08)" text-anchor="middle">300</text>
<text class="tk" transform="translate(833.4 815.2) scale(1,1.08)" text-anchor="middle">350</text>
<text class="tk" transform="translate(352.2 802.8) scale(1,1.08)" text-anchor="end">130</text>
<text class="tk" transform="translate(352.2 731.6) scale(1,1.08)" text-anchor="end">140</text>
<text class="tk" transform="translate(352.2 660.4) scale(1,1.08)" text-anchor="end">150</text>
<text class="tk" transform="translate(352.2 589.1) scale(1,1.08)" text-anchor="end">160</text>
<text class="tk" transform="translate(352.2 517.9) scale(1,1.08)" text-anchor="end">170</text>
<text class="tk" transform="translate(352.2 446.7) scale(1,1.08)" text-anchor="end">180</text>
<text class="ax" transform="translate(596 841.5) scale(1,1.04)" text-anchor="middle">Rainfall(mm/month)</text>
<text class="rx" transform="translate(325.4 620.8) rotate(-90) scale(1,1.11)" text-anchor="middle">Reservoir water level(m)</text>
<text class="zg" x="773.2" y="464.8">ZG87</text>
<rect x="836.2" y="441.9" width="25.6" height="36" fill="#4441a5"/>
<rect x="836.2" y="477.5" width="25.6" height="36" fill="#8c3ae4"/>
<rect x="836.2" y="513.1" width="25.6" height="36" fill="#b96cf5"/>
<rect x="836.2" y="548.7" width="25.6" height="36" fill="#4040f2"/>
<rect x="836.2" y="584.3" width="25.6" height="36" fill="#3cb2f5"/>
<rect x="836.2" y="620" width="25.6" height="36" fill="#b8f262"/>
<rect x="836.2" y="655.6" width="25.6" height="36" fill="#f7f740"/>
<rect x="836.2" y="691.2" width="25.6" height="36" fill="#f7c698"/>
<rect x="836.2" y="726.8" width="25.6" height="36" fill="#f8a540"/>
<rect x="836.2" y="762.4" width="25.6" height="36" fill="#f84242"/>
<rect x="836.2" y="442.1" width="25.6" height="356.4" fill="none" stroke="#000" stroke-width="2"/>
<text class="cb" transform="translate(874.6 446.8) scale(.95,1)">25</text>
<text class="cb" transform="translate(874.6 482.2) scale(.95,1)">21</text>
<text class="cb" transform="translate(874.6 517.8) scale(.95,1)">17</text>
<text class="cb" transform="translate(874.6 553.4) scale(.95,1)">13</text>
<text class="cb" transform="translate(874.6 589) scale(.95,1)">9</text>
<text class="cb" transform="translate(874.6 624.7) scale(.95,1)">5</text>
<text class="cb" transform="translate(874.6 660.3) scale(.95,1)">0</text>
<text class="cb" transform="translate(874.6 695.9) scale(.95,1)">−3</text>
<text class="cb" transform="translate(874.6 731.5) scale(.95,1)">−7</text>
<text class="cb" transform="translate(874.6 767.1) scale(.95,1)">−11</text>
<text class="cb" transform="translate(874.6 802.7) scale(.95,1)">−15</text>
<path d="M862.8 442.5h8M862.8 477.9h8M862.8 513.5h8M862.8 549.1h8M862.8 584.7h8M862.8 620.4h8M862.8 656h8M862.8 691.6h8M862.8 727.2h8M862.8 762.8h8M862.8 798.4h8" stroke="#333" stroke-width="1" fill="none"/>
<text class="rx" transform="translate(909.5 619.9) rotate(-90) scale(1,1.11)" text-anchor="middle">Change in reservoir water level(m/month)</text>
<path class="ar" d="M520.8 672.8L521.3 670.6"/>
<path d="M522.8 664.6L523.2 671.1L519.5 670.2Z" fill="#000"/>
<text class="an" x="508.2" y="661.3">2009-06</text>
<path class="ar" d="M651.5 682.3L648.1 678.3"/>
<path d="M644.1 673.6L649.6 677.1L646.7 679.6Z" fill="#000"/>
<text class="an" x="626.3" y="669.5">2007-05</text>
<path class="ar" d="M677.4 693.6L680.9 689.2"/>
<path d="M684.8 684.3L682.4 690.3L679.5 688Z" fill="#000"/>
<text class="an" x="671.3" y="681.3">2007-07</text>
<path class="ar" d="M575.7 701.5L577 704.2"/>
<path d="M579.8 709.7L575.3 705L578.7 703.3Z" fill="#000"/>
<text class="an" x="564" y="720.7">2007-06</text>
</g>
<g>
<circle class="lg" cx="134.5" cy="451.4" r="41.5"/>
<text class="tk" transform="translate(179.6 455.9) scale(1,1.06)">390</text>
<circle class="lg" cx="134.5" cy="539.1" r="36.1"/>
<text class="tk" transform="translate(179.6 543.6) scale(1,1.06)">335</text>
<circle class="lg" cx="134.5" cy="614.4" r="29.8"/>
<text class="tk" transform="translate(179.6 618.9) scale(1,1.06)">280</text>
<circle class="lg" cx="134.5" cy="678.2" r="24.1"/>
<text class="tk" transform="translate(179.6 682.7) scale(1,1.06)">225</text>
<circle class="lg" cx="134.5" cy="730.2" r="18.2"/>
<text class="tk" transform="translate(179.6 734.7) scale(1,1.06)">170</text>
<circle class="lg" cx="134.5" cy="771" r="12.2"/>
<text class="tk" transform="translate(179.6 775.5) scale(1,1.06)">115</text>
<circle class="lg" cx="134.5" cy="799.9" r="6.2"/>
<text class="tk" transform="translate(179.6 804.4) scale(1,1.06)">60</text>
<text class="tk" transform="translate(179.6 823.8) scale(1,1.06)">5</text>
<text class="rx" transform="translate(85.9 615) rotate(-90) scale(1,1.11)" text-anchor="middle">Displacement change rate(mm/month)</text>
</g>
</svg></body></html>
